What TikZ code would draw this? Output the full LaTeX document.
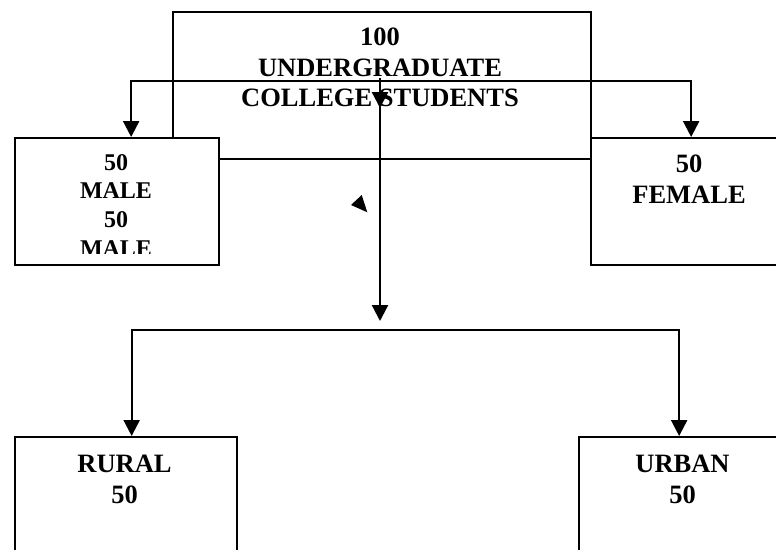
\documentclass[tikz,border=0pt]{standalone}
\usepackage{fontspec}
\setmainfont{Liberation Serif}
\usetikzlibrary{arrows.meta}
\begin{document}
\begin{tikzpicture}[x=1pt,y=-1pt,
  box/.style={draw=black, fill=white, line width=2.3pt, rectangle, inner sep=0pt, anchor=north west},
  lbl/.style={align=center, anchor=base, inner sep=0pt, font=\bfseries\fontsize{26.5}{30.5}\selectfont},
  lblsmall/.style={align=center, anchor=base, inner sep=0pt, font=\bfseries\fontsize{24}{28.8}\selectfont},
  conn/.style={draw=black, line width=2.3pt},
  arr/.style={conn, -{Triangle[length=16pt,width=16pt]}}]
\useasboundingbox (0,0) rectangle (776,549);

% top box and its text
\node[box, minimum width=418pt, minimum height=147pt] (top) at (172,11) {};
\node[lbl] (toptext) at (380,106.7) {100\\UNDERGRADUATE\\COLLEGE STUDENTS};

\coordinate (hubA) at (380,81);
\coordinate (startV) at (380,78);

% other boxes
\node[box, minimum width=204pt, minimum height=127pt] (male) at (14,137) {};
\node[box, minimum width=200pt, minimum height=127pt] (female) at (590,137) {};
\node[box, minimum width=222pt, minimum height=130pt] (rural) at (14,436) {};
\node[box, minimum width=220pt, minimum height=130pt] (urban) at (578,436) {};

\begin{scope}
  \clip (16,139) rectangle (216,253);
  \node[lblsmall] (maletext) at (116,256.5) {50\\MALE\\50\\MALE};
\end{scope}
\node[lbl] (femaletext) at (689,203.3) {50\\FEMALE};
\node[lbl] (ruraltext) at (124.5,503.3) {RURAL\\50};
\node[lbl] (urbantext) at (682.5,503.3) {URBAN\\50};

% connectors
\coordinate (hubB) at (380,330);
\draw[arr] (hubA) -| ([xshift=14pt]male.north);
\draw[arr] (hubA) -| (female.north);
\draw[arr] (startV) -- (380,108);
\draw[arr] (380,100) -- ([yshift=9pt]hubB);
\draw[arr] (hubB) -| ([xshift=5.5pt]rural.north);
\draw[arr] (hubB) -| ([xshift=-10pt]urban.north);

% stray arrowhead
\fill (361.7,195) -- (351,205) -- (367.3,212.3) -- cycle;
\end{tikzpicture}
\end{document}
